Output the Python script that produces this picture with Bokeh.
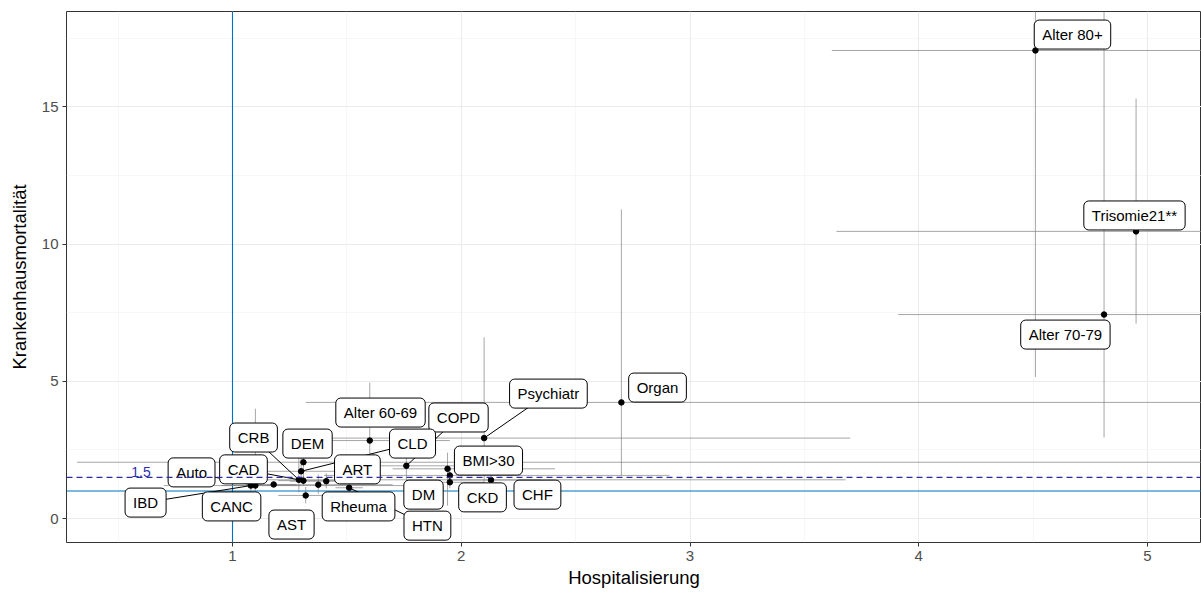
from bokeh.plotting import figure
from bokeh.models import FixedTicker, Range1d, ColumnDataSource, Span
from bokeh.core.properties import value
from bokeh.embed import file_html
from bokeh.resources import INLINE

# ---- data ----
names = ["Alter 80+", "Trisomie21**", "Alter 70-79", "Organ", "Psychiatr", "Alter 60-69",
         "COPD", "CLD", "DEM", "CRB", "CAD", "Auto", "IBD", "CANC", "AST", "Rheuma",
         "ART", "HTN", "BMI>30", "DM", "CKD", "CHF"]
hosp = [4.51, 4.95, 4.81, 2.70, 2.10, 1.60,
        1.76, 1.30, 1.31, 1.29, 1.31, 1.10, 1.08, 1.18, 1.32, 1.375,
        1.41, 1.51, 1.94, 1.95, 2.13, 1.95]
mort = [17.05, 10.46, 7.43, 4.23, 2.93, 2.84,
        1.92, 1.72, 2.05, 1.41, 1.38, 1.20, 1.20, 1.24, 0.84, 1.23,
        1.36, 1.12, 1.81, 1.32, 1.40, 1.57]
hosp_lo = [3.62, 3.64, 3.91, 1.32, 1.32, 1.43,
           1.55, 1.12, 0.32, 1.08, 1.20, 0.70, 0.95, 1.10, 1.20, 1.15,
           1.25, 1.45, 1.70, 1.80, 1.95, 1.40]
hosp_hi = [5.60, 5.60, 5.60, 5.60, 3.70, 1.95,
           2.05, 1.52, 5.60, 3.68, 1.45, 1.90, 1.30, 1.28, 1.45, 1.70,
           1.60, 1.57, 2.41, 2.10, 2.35, 2.91]
mort_lo = [5.15, 7.10, 2.95, 1.57, 1.27, 1.85,
           0.65, 1.35, 1.20, 0.95, 1.25, 0.60, 0.85, 1.15, 0.55, 0.90,
           1.10, 1.05, 0.47, 1.10, 0.65, 1.35]
mort_hi = [19.50, 15.30, 19.50, 11.26, 6.60, 4.95,
           2.20, 2.30, 2.80, 2.20, 1.55, 4.00, 1.70, 1.35, 1.15, 1.60,
           1.65, 1.20, 2.40, 1.55, 1.75, 1.80]

ref_line = 1.0
threshold = 1.5
threshold_label = "1.5"

x_ticks = [1, 2, 3, 4, 5]
y_ticks = [0, 5, 10, 15]

# ---- label placement (repelled label positions, data units) ----
label_x = [4.672, 4.943, 4.641, 2.858, 2.381, 1.647,
           1.988, 1.787, 1.328, 1.092, 1.048, 0.821, 0.620, 0.996, 1.258, 1.551,
           1.546, 1.852, 2.119, 1.835, 2.093, 2.333]
label_y = [17.63, 11.04, 6.70, 4.77, 4.55, 3.86,
           3.68, 2.73, 2.73, 2.95, 1.79, 1.68, 0.58, 0.44, -0.22, 0.44,
           1.79, -0.26, 2.11, 0.87, 0.77, 0.87]
leader = ["Psychiatr", "COPD", "CLD", "CRB", "CAD", "Auto", "IBD", "HTN"]

src = ColumnDataSource(dict(name=names, x=hosp, y=mort, xlo=hosp_lo, xhi=hosp_hi,
                            ylo=mort_lo, yhi=mort_hi, lx=label_x, ly=label_y))
li = [names.index(n) for n in leader]
lead_src = ColumnDataSource(dict(x0=[label_x[i] for i in li], y0=[label_y[i] for i in li],
                                 x1=[hosp[i] for i in li], y1=[mort[i] for i in li]))

FONT = value("Liberation Sans")

p = figure(width=1201, height=594,
           x_range=Range1d(0.2743, 5.236), y_range=Range1d(-0.874, 18.47),
           output_backend="svg", toolbar_location=None,
           min_border_left=66, min_border_right=0, min_border_top=11, min_border_bottom=52,
           x_axis_label="Hospitalisierung", y_axis_label="Krankenhausmortalität")

p.background_fill_color = "white"
p.border_fill_color = "white"
p.outline_line_color = "#333333"
p.outline_line_width = 1

for ax, ticks in ((p.xaxis, x_ticks), (p.yaxis, y_ticks)):
    ax.ticker = FixedTicker(ticks=ticks)
    ax.axis_line_color = None
    ax.major_tick_line_color = "#333333"
    ax.major_tick_out = 4
    ax.major_tick_in = 0
    ax.minor_tick_line_color = None
    ax.major_label_text_color = "#4D4D4D"
    ax.major_label_text_font = "Liberation Sans"
    ax.major_label_text_font_size = "15px"
    ax.axis_label_text_font = "Liberation Sans"
    ax.axis_label_text_font_size = "18.5px"
    ax.axis_label_text_font_style = "normal"
    ax.axis_label_text_color = "black"
p.xaxis.major_label_standoff = 4
p.xaxis.axis_label_standoff = 3
p.yaxis.major_label_standoff = 4
p.yaxis.axis_label_standoff = 9

p.xgrid.ticker = FixedTicker(ticks=x_ticks, minor_ticks=[0.5, 1.5, 2.5, 3.5, 4.5])
p.ygrid.ticker = FixedTicker(ticks=y_ticks, minor_ticks=[2.5, 7.5, 12.5, 17.5])
for g in (p.xgrid, p.ygrid):
    g.grid_line_color = "#EBEBEB"
    g.grid_line_width = 1.1
    g.minor_grid_line_color = "#F2F2F2"
    g.minor_grid_line_width = 0.6

# reference lines at 1 (below the marks)
p.add_layout(Span(location=ref_line, dimension="height", line_color="#0072BD",
                  line_width=1.1, level="underlay"))
p.add_layout(Span(location=ref_line, dimension="width", line_color="#0072BD",
                  line_width=1.1, level="underlay"))

# confidence intervals
p.segment(x0="xlo", y0="y", x1="xhi", y1="y", source=src, line_color="#808080",
          line_alpha=0.7, line_width=1)
p.segment(x0="x", y0="ylo", x1="x", y1="yhi", source=src, line_color="#808080",
          line_alpha=0.7, line_width=1)

# points
p.scatter(x="x", y="y", source=src, size=5.5, color="black")

# leader lines and labels
p.segment(x0="x0", y0="y0", x1="x1", y1="y1", source=lead_src, line_color="black",
          line_width=1)
p.text(x="lx", y="ly", text="name", source=src, text_align="center", text_baseline="middle",
       text_font=FONT, text_font_size="15px", text_color="black",
       background_fill_color="white", border_line_color="black", border_line_width=1,
       padding=dict(left=8, right=8, top=6, bottom=6), border_radius=5)

# threshold line (on top of the labels)
p.add_layout(Span(location=threshold, dimension="width", line_color="#2C2CA0",
                  line_dash="6 4", line_width=1.3))
p.text(x=[0.6], y=[threshold + 0.03], text=[threshold_label], text_align="center",
       text_baseline="bottom", text_font=FONT, text_font_size="14px", text_color="#2F2FB0")

open("out.html", "w").write(file_html(p, INLINE))
